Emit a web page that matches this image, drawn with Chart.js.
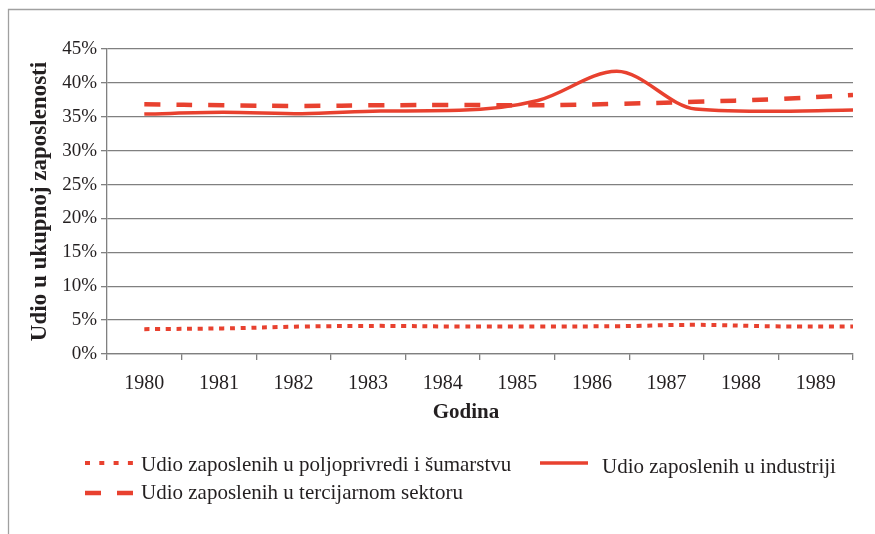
<!DOCTYPE html>
<html><head><meta charset="utf-8">
<script src="https://cdn.jsdelivr.net/npm/chart.js@4.4.1/dist/chart.umd.min.js"></script>
<style>html,body{margin:0;padding:0;background:#fff}#wrap{width:875px;height:534px;position:relative}</style>
</head><body><div id="wrap"><canvas id="c" width="875" height="534"></canvas></div>
<script>
// ---- data ----
const years = ['1980','1981','1982','1983','1984','1985','1986','1987','1988','1989'];
const agriculture = [3.67, 3.78, 4.05, 4.15, 4.05, 4.07, 4.1, 4.3, 4.08, 4.07];
const industry    = [35.4, 35.65, 35.45, 35.85, 35.95, 37.4, 41.7, 36.15, 35.8, 36.0];
const tertiary    = [36.85, 36.7, 36.6, 36.7, 36.75, 36.7, 36.9, 37.2, 37.6, 38.2];
const seriesNames = ['Udio zaposlenih u poljoprivredi i šumarstvu','Udio zaposlenih u industriji','Udio zaposlenih u tercijarnom sektoru'];
const yTitle = 'Udio u ukupnoj zaposlenosti';
const xTitle = 'Godina';

const RED = '#e8412f';
const GRID = '#808080';
const TEXT = '#231f20';
const SERIF = "'Liberation Serif', 'DejaVu Serif', serif";

// points span from the first category centre to the right edge of the axis (as in the source chart)
const n = years.length;
const toXY = arr => arr.map((v,i)=>({x: 0.5 + i*(n-0.5)/(n-1), y: v}));

const decor = {
  id:'decor',
  beforeDraw(chart){
    const ctx = chart.ctx;
    ctx.save();
    ctx.fillStyle='#fff'; ctx.fillRect(0,0,chart.width,chart.height);
    ctx.strokeStyle='#a0a0a0'; ctx.lineWidth=1.3;
    ctx.beginPath(); ctx.moveTo(8.5,chart.height); ctx.lineTo(8.5,9.5); ctx.lineTo(chart.width,9.5); ctx.stroke();
    ctx.restore();
  },
  afterDraw(chart){
    const ctx = chart.ctx;
    ctx.save();
    // x axis title
    ctx.fillStyle = TEXT;
    ctx.font = "bold 21px " + SERIF;
    ctx.textBaseline = 'middle'; ctx.textAlign = 'center';
    ctx.fillText(xTitle, 466, 413);
    // legend
    const items = [
      {ds:0, x:85, y:463, tx:141, ty:465},
      {ds:1, x:540, y:463, tx:602, ty:467},
      {ds:2, x:85, y:493, tx:141, ty:493}
    ];
    items.forEach(it=>{
      const d = chart.data.datasets[it.ds];
      ctx.strokeStyle = d.borderColor; ctx.lineWidth = d.borderWidth;
      ctx.lineCap = 'butt';
      ctx.setLineDash(d.legendDash || []);
      ctx.beginPath(); ctx.moveTo(it.x, it.y); ctx.lineTo(it.x + 48, it.y); ctx.stroke();
      ctx.setLineDash([]);
      ctx.fillStyle = TEXT;
      ctx.font = "21px " + SERIF;
      ctx.textBaseline = 'middle'; ctx.textAlign = 'left';
      ctx.fillText(d.label, it.tx, it.ty);
    });
    ctx.restore();
  }
};

new Chart(document.getElementById('c'), {
  type:'line',
  data:{
    labels: years,
    datasets:[
      {label: seriesNames[0], data: toXY(agriculture), xAxisID:'xd', borderColor:RED, borderWidth:4, borderDash:[5,5.7], legendDash:[5,9.3], borderCapStyle:'butt', pointRadius:0, tension:0.4, fill:false},
      {label: seriesNames[1], data: toXY(industry), xAxisID:'xd', borderColor:RED, borderWidth:3.5, borderCapStyle:'butt', pointRadius:0, cubicInterpolationMode:'monotone', fill:false},
      {label: seriesNames[2], data: toXY(tertiary), xAxisID:'xd', borderColor:RED, borderWidth:4.5, borderDash:[16,16], legendDash:[16,16], borderCapStyle:'butt', pointRadius:0, tension:0.4, fill:false}
    ]
  },
  options:{
    responsive:false, animation:false,
    layout:{padding:{left:0, right:22, top:49, bottom:100}},
    plugins:{legend:{display:false}, tooltip:{enabled:false}},
    scales:{
      x:{
        type:'category', position:'bottom', offset:true,
        grid:{offset:true, drawOnChartArea:false, drawTicks:true, tickLength:6, color:GRID, lineWidth:1.3},
        border:{display:true, color:GRID, width:1.3},
        ticks:{color:TEXT, font:{family:SERIF, size:20}, padding:12, maxRotation:0, autoSkip:false},
        title:{display:false, text:xTitle},
        afterFit(s){ s.height = 80; }
      },
      xd:{type:'linear', display:false, min:0, max:n},
      y:{
        min:0, max:45,
        grid:{color:GRID, lineWidth:1.3, drawTicks:true, tickLength:6},
        border:{display:true, color:GRID, width:1.3},
        ticks:{stepSize:5, color:TEXT, font:{family:SERIF, size:19}, padding:4, callback:v=>v+'%'},
        title:{display:true, text:yTitle, color:TEXT, font:{family:SERIF, size:23, weight:'bold'}, padding:{top:26, bottom:0}},
        afterFit(s){ s.width = 107; }
      }
    }
  },
  plugins:[decor]
});
</script></body></html>
